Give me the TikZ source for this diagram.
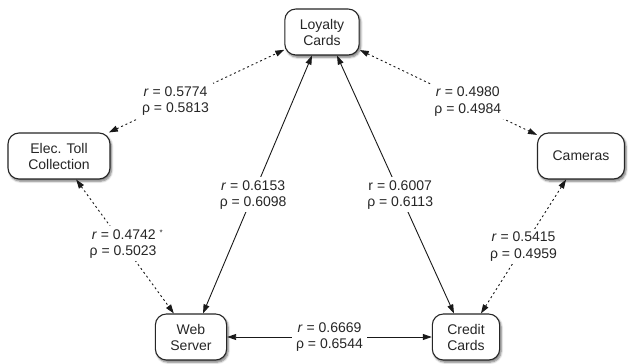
\documentclass[tikz,border=0pt]{standalone}
\usepackage{fontspec}
\setmainfont{Liberation Sans}
\usetikzlibrary{arrows.meta,shadows.blur}
\begin{document}
\begin{tikzpicture}[x=1pt,y=-1pt,
  box/.style={draw=black!85, line width=1.1pt, fill=white, rounded corners=11pt,
    align=center, font=\fontsize{14}{16}\selectfont, text=black!85,
    minimum height=46pt, inner xsep=15pt, inner ysep=4pt,
    blur shadow={shadow xshift=1.5pt, shadow yshift=-2.2pt, shadow blur steps=6, shadow opacity=55}},
  conn/.style={line width=0.9pt, draw=black!90, {Triangle[length=9pt,width=6pt]}-{Triangle[length=9pt,width=6pt]}},
  dotconn/.style={conn, dash pattern=on 2pt off 2.8pt},
  lbl/.style={fill=white, align=center, inner xsep=4pt, inner ysep=3pt,
    font=\fontsize{14}{16.5}\selectfont, text=black!85}
]
\useasboundingbox (0,0) rectangle (629,364);
\node[box] (L) at (322,32) {Loyalty\\Cards};
\node[box, minimum width=102pt] (E) at (59,156) {Elec. Toll\\Collection};
\node[box, minimum width=87pt] (C) at (581,156) {Cameras};
\node[box] (W) at (191,337) {Web\\Server};
\node[box] (K) at (466,337) {Credit\\Cards};

\draw[dotconn] (E) -- node[lbl, pos=0.38] {\textit{r} = 0.5774\\ρ = 0.5813} (L);
\draw[dotconn] (L) -- node[lbl, pos=0.61] {\textit{r} = 0.4980\\ρ = 0.4984} (C);
\draw[dotconn] (E) -- node[lbl, pos=0.48] {\hspace*{0.6em}\textit{r} = 0.4742 \raisebox{0.45ex}{\footnotesize *}\\ρ = 0.5023} (W);
\draw[dotconn] (C) -- node[lbl, pos=0.5] {\textit{r} = 0.5415\\ρ = 0.4959} (K);
\draw[conn] ([xshift=12pt]W.north) -- node[lbl, pos=0.46] {\textit{r} = 0.6153\\ρ = 0.6098} ([xshift=-10pt]L.south);
\draw[conn] ([xshift=15pt]L.south) -- node[lbl, pos=0.54] {r = 0.6007\\ρ = 0.6113} ([xshift=-12pt]K.north);
\draw[conn] (W) -- node[lbl] {\textit{r} = 0.6669\\ρ = 0.6544} (K);
\end{tikzpicture}
\end{document}
